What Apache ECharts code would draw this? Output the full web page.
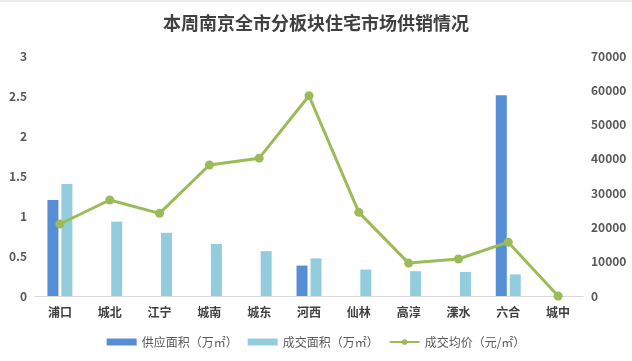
<!DOCTYPE html>
<html><head><meta charset="utf-8">
<script src="https://cdn.jsdelivr.net/npm/echarts@6/dist/echarts.min.js"></script>
<style>html,body{margin:0;padding:0;background:#fff}#c{width:632px;height:361px}</style>
</head><body><div id="c"></div>
<script>
var categories = ['浦口','城北','江宁','城南','城东','河西','仙林','高淳','溧水','六合','城中'];
var supplyArea = [1.2, 0, 0, 0, 0, 0.38, 0, 0, 0, 2.51, 0];
var dealArea = [1.4, 0.93, 0.79, 0.65, 0.56, 0.47, 0.33, 0.31, 0.30, 0.27, 0];
var dealPrice = [21000, 28000, 24100, 38200, 40200, 58400, 24400, 9600, 10800, 15700, 0];
var leftTicks = [0, 0.5, 1, 1.5, 2, 2.5, 3];
var rightTicks = [0, 10000, 20000, 30000, 40000, 50000, 60000, 70000];

var font = '"Noto Sans CJK SC", sans-serif';
var chart = echarts.init(document.getElementById('c'));
chart.setOption({
  animation: false,
  title: {text: '本周南京全市分板块住宅市场供销情况', left: 'center', top: 9,
    textStyle: {fontFamily: font, fontSize: 18, fontWeight: 'bold', color: '#404040'}},
  graphic: [{type: 'line', shape: {x1: 0, y1: 1, x2: 632, y2: 1}, style: {stroke: '#d9d9d9', lineWidth: 1}}],
  legend: {bottom: 8, left: 'center', itemGap: 10, itemWidth: 30, itemHeight: 7,
    textStyle: {fontFamily: font, fontSize: 12, color: '#595959'},
    data: [{name: '供应面积（万㎡）', icon: 'rect'}, {name: '成交面积（万㎡）', icon: 'rect'}, {name: '成交均价（元/㎡）'}]},
  grid: {left: 35, right: 49, top: 56, bottom: 65},
  xAxis: {type: 'category', data: categories,
    axisLine: {lineStyle: {color: '#d9d9d9'}}, axisTick: {show: false},
    axisLabel: {fontFamily: font, fontSize: 12, fontWeight: 'bold', color: '#404040', margin: 10}},
  yAxis: [
    {type: 'value', min: leftTicks[0], max: leftTicks[leftTicks.length - 1], interval: 0.5,
      splitLine: {show: false}, axisLine: {show: false}, axisTick: {show: false},
      axisLabel: {fontFamily: font, fontSize: 12, fontWeight: 'bold', color: '#595959', margin: 8}},
    {type: 'value', min: rightTicks[0], max: rightTicks[rightTicks.length - 1], interval: 10000,
      splitLine: {show: false}, axisLine: {show: false}, axisTick: {show: false},
      axisLabel: {fontFamily: font, fontSize: 12, fontWeight: 'bold', color: '#595959', margin: 8,
        formatter: function (v) { return String(v); }}}
  ],
  series: [
    {name: '供应面积（万㎡）', type: 'bar', data: supplyArea, barWidth: 11, barGap: '27%',
      itemStyle: {color: '#558ED5'}},
    {name: '成交面积（万㎡）', type: 'bar', data: dealArea, barWidth: 11,
      itemStyle: {color: '#93CDDD'}},
    {name: '成交均价（元/㎡）', type: 'line', yAxisIndex: 1, data: dealPrice,
      symbol: 'circle', symbolSize: 9, lineStyle: {color: '#9BBB59', width: 3},
      itemStyle: {color: '#9BBB59'}}
  ]
});
</script></body></html>
